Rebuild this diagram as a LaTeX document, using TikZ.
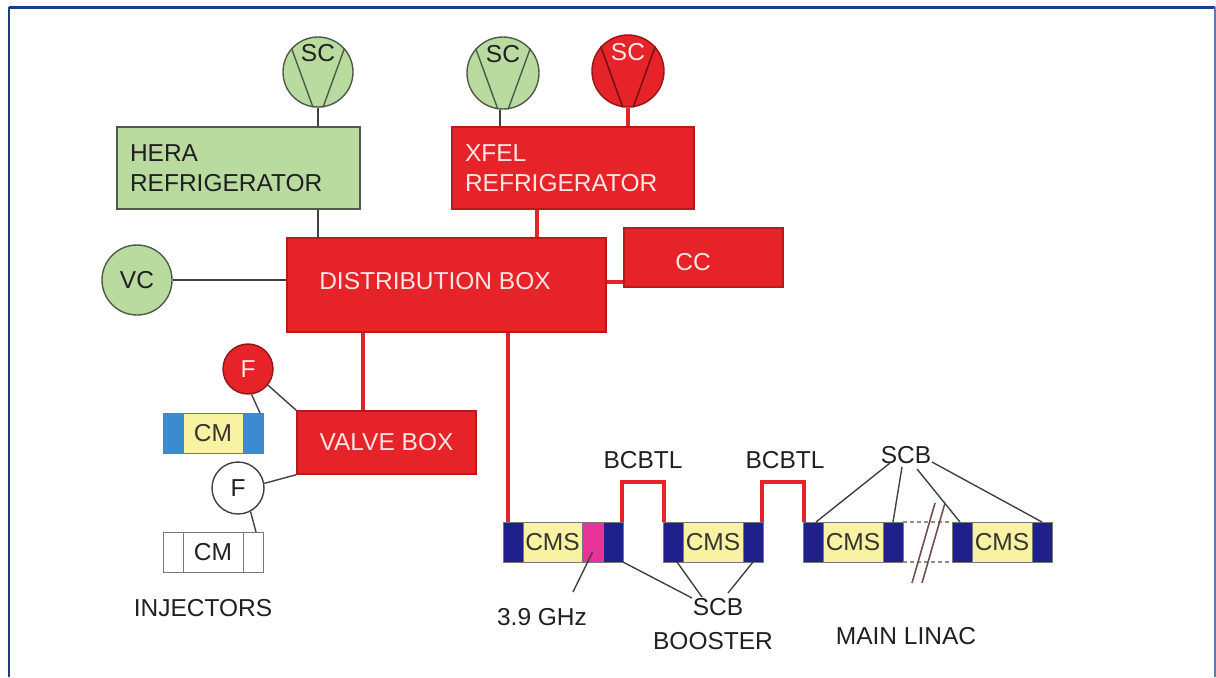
\documentclass[tikz,border=0pt]{standalone}
\usepackage{fontspec}
\setmainfont{Liberation Sans}
\usetikzlibrary{calc}
\definecolor{xred}{HTML}{E62329}
\definecolor{xreddk}{HTML}{B81A1A}
\definecolor{xpink}{HTML}{FFE4E4}
\definecolor{xgreen}{HTML}{B9DBA0}
\definecolor{xgreendk}{HTML}{4E5A48}
\definecolor{xnavy}{HTML}{20208C}
\definecolor{xyellow}{HTML}{F8F2A2}
\definecolor{xmag}{HTML}{E8329A}
\definecolor{xblue}{HTML}{3B8BD0}
\definecolor{xframe}{HTML}{1A3F8A}
\definecolor{xline}{HTML}{404040}
\definecolor{xtext}{HTML}{202020}
\definecolor{xbreak}{HTML}{705050}
\begin{document}
\begin{tikzpicture}[x=0.5pt,y=-0.5pt,
  lbl/.style={font=\fontsize{12.25}{15}\selectfont, text=xtext, inner sep=1pt},
  redbox/.style={draw=xreddk, fill=xred, line width=0.7pt, text=xpink,
     font=\fontsize{12.25}{15}\selectfont},
  greenbox/.style={draw=xgreendk, fill=xgreen, line width=0.7pt, text=xtext,
     font=\fontsize{12.25}{15}\selectfont},
  gcirc/.style={circle, draw=xgreendk, fill=xgreen, line width=0.7pt, inner sep=0pt},
  rcirc/.style={circle, draw=xreddk!80!black, fill=xred, line width=0.7pt, inner sep=0pt},
  pipe/.style={draw=xred, line width=2.2pt},
  thin/.style={draw=xline, line width=0.7pt},
  blk/.style={draw=xline!70, line width=0.5pt, minimum height=20pt, inner sep=0pt, outer sep=0pt},
  navy/.style={blk, fill=xnavy, minimum width=10pt},
  yel/.style={blk, fill=xyellow, minimum width=30pt, text=black!75!yellow!40!black,
     font=\fontsize{12.25}{15}\selectfont}
]
\useasboundingbox (0,0) rectangle (1216,677);
% frame
\draw[xframe, line width=1.5pt] (9,7) -- (1215,7);
\draw[xframe, line width=1pt] (9,7) -- (9,677);
\draw[xframe!70, line width=0.8pt] (1215,7) -- (1215,677);

% boxes
\node[greenbox, minimum width=121.5pt, minimum height=41pt, text width=108.5pt,
      align=left, inner xsep=6.5pt] (hera) at (238.5,168) {HERA\\REFRIGERATOR};
\node[redbox, minimum width=121pt, minimum height=41pt, text width=108pt,
      align=left, inner xsep=6.5pt] (xfel) at (573,168) {XFEL\\REFRIGERATOR};
\node[redbox, minimum width=159.5pt, minimum height=47pt] (dist) at (446.5,285) {};
\node[font=\fontsize{12.25}{15}\selectfont, text=xpink] (distt) at (435,281) {DISTRIBUTION BOX};
\node[redbox, minimum width=79.5pt, minimum height=29.5pt] (cc) at (703.5,257.5) {};
\node[font=\fontsize{12.25}{15}\selectfont, text=xpink] (cct) at (693,262) {CC};
\node[redbox, minimum width=89.5pt, minimum height=31.5pt] (valve) at (386.5,442.5) {VALVE BOX};

% compressors
\node[gcirc, minimum size=35pt] (sc1) at (318,72) {};
\node[gcirc, minimum size=36pt] (sc2) at (503,73) {};
\node[rcirc, minimum size=36pt] (sc3) at (628,71) {};
\foreach \c in {sc1,sc2}{
  \draw[xgreendk, line width=0.7pt] (\c.138) -- (\c.-98) (\c.42) -- (\c.-82);
}
\draw[xreddk!60!black, line width=0.7pt] (sc3.138) -- (sc3.-98) (sc3.42) -- (sc3.-82);
\node[lbl] (sc1t) at (318,53) {SC};
\node[lbl] (sc2t) at (503,54) {SC};
\node[lbl, text=xpink] (sc3t) at (628,52) {SC};
\node[gcirc, minimum size=35pt, font=\fontsize{12.25}{15}\selectfont, text=xtext] (vc) at (137,280) {VC};
\node[rcirc, minimum size=25pt, font=\fontsize{12.25}{15}\selectfont, text=xpink] (fred) at (248,369) {F};
\node[circle, draw=xline, fill=white, line width=0.7pt, inner sep=0pt, minimum size=26pt,
      font=\fontsize{12.25}{15}\selectfont, text=xtext] (fwht) at (238,488) {F};

% injector modules
\node[navy, fill=xblue] (cmaL) at (173,433) {};
\node[yel] (cmaM) at (213,433) {CM};
\node[navy, fill=xblue] (cmaR) at (253,433) {};
\node[blk, fill=white, minimum width=10pt] (cmbL) at (173,552) {};
\node[blk, fill=white, minimum width=30pt, font=\fontsize{12.25}{15}\selectfont, text=xtext] (cmbM) at (213,552) {CM};
\node[blk, fill=white, minimum width=10pt] (cmbR) at (253,552) {};

% linac modules
\node[navy] (m1a) at (513,542) {};
\node[yel, minimum width=29.5pt] (m1b) at (552.5,542) {CMS};
\node[navy, fill=xmag, minimum width=10.5pt] (m1c) at (592.5,542) {};
\node[navy] (m1d) at (613,542) {};
\node[navy] (m2a) at (673,542) {};
\node[yel] (m2b) at (713,542) {CMS};
\node[navy] (m2c) at (753,542) {};
\node[navy] (m3a) at (813,542) {};
\node[yel] (m3b) at (853,542) {CMS};
\node[navy] (m3c) at (893,542) {};
\node[navy] (m4a) at (962,542) {};
\node[yel] (m4b) at (1002,542) {CMS};
\node[navy] (m4c) at (1042,542) {};
\draw[xline!60, line width=0.6pt, dash pattern=on 2pt off 1.5pt] (m3c.north east) -- (m4a.north west) (m3c.south east) -- (m4a.south west);
\draw[xbreak, line width=0.8pt] (912,583) -- (935,503) (922,583) -- (945,503);

% labels
\node[lbl] (bc1) at (643,460) {BCBTL};
\node[lbl] (bc2) at (785,460) {BCBTL};
\node[lbl] (scbt) at (906,455) {SCB};
\node[lbl] (scbb) at (718,607) {SCB};
\node[lbl] (boost) at (713,641) {BOOSTER};
\node[lbl] (ghz) at (542,617) {3.9 GHz};
\node[lbl] (inj) at (203,608) {INJECTORS};
\node[lbl] (linac) at (906,636) {MAIN LINAC};

% thin connectors
\draw[thin] (sc1.south) -- (sc1.south |- hera.north);
\draw[thin] (hera.south -| sc1) -- (dist.north -| sc1);
\draw[thin] ([xshift=-1.5pt]sc2.south) -- ([xshift=-1.5pt]sc2.south |- xfel.north);
\draw[thin] (vc.east) -- (vc.east -| dist.west);
\draw[thin] (fred.-39) -- (valve.north west);
\draw[thin] (fred.-82) -- ([xshift=3.5pt]cmaR.north);
\draw[thin] (fwht.10) -- (valve.south west);
\draw[thin] (fwht.-62) -- ([xshift=1.5pt]cmbR.north);
\draw[thin] ($(scbt)+(-16,8)$) -- ([xshift=-3.5pt]m3a.north east);
\draw[thin] ($(scbt)+(-4,12)$) -- (m3c.north);
\draw[thin] ($(scbt)+(11,14)$) -- ([xshift=-1pt]m4a.north);
\draw[thin] ($(scbt)+(26,7)$) -- (m4c.north);
\draw[thin] (m1d.south east) -- ($(scbb)+(-26,-9)$);
\draw[thin] ([xshift=2pt]m2a.south) -- ($(scbb)+(-16,-10)$);
\draw[thin] (m2c.south) -- ($(scbb)+(10,-14)$);
\draw[thin] ([yshift=5pt]m1c.south) -- ($(ghz)+(31,-25)$);

% pipes
\draw[pipe] (sc3.south) -- (sc3.south |- xfel.north);
\draw[pipe] ([xshift=-18pt]xfel.south) -- ([xshift=-18pt]xfel.south |- dist.north);
\draw[pipe] ([yshift=1.5pt]dist.east) -- ([yshift=1.5pt]dist.east -| cc.west);
\draw[pipe] ([xshift=-11.75pt]valve.north) -- ([xshift=-11.75pt]valve.north |- dist.south);
\draw[pipe] ([xshift=-2.5pt]m1a.north) -- ([xshift=-2.5pt]m1a.north |- dist.south);
\draw[pipe] ([xshift=-0.5pt]m1d.north east) -- ++(0,-40) -| ([xshift=0.5pt]m2a.north west);
\draw[pipe] ([xshift=-0.5pt]m2c.north east) -- ++(0,-40) -| ([xshift=0.5pt]m3a.north west);
\end{tikzpicture}
\end{document}
